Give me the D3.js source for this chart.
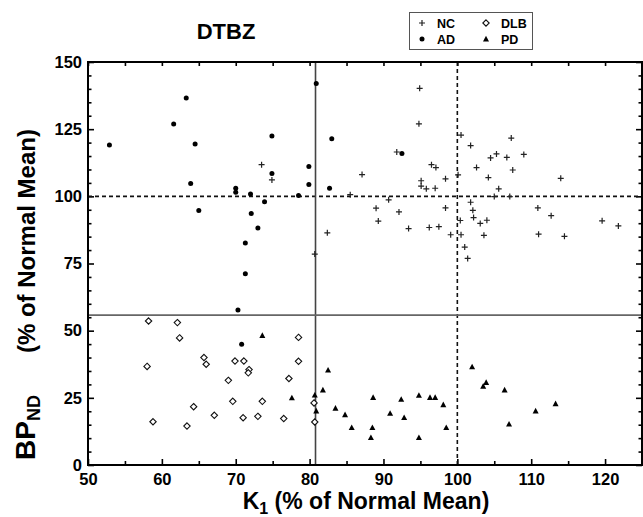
<!DOCTYPE html>
<html><head><meta charset="utf-8">
<script src="https://cdn.jsdelivr.net/npm/d3@7"></script>
<style>
body{margin:0;background:#fff;}
svg text{font-family:"Liberation Sans",Arial,Helvetica,sans-serif;font-weight:bold;fill:#000;}
</style></head><body>
<svg id="c" width="643" height="517"></svg>
<script>
// Data: [K1 %, BPND %]
const ncData = [[73.5,111.8],[74.9,106.1],[80.7,78.5],[82.4,86.4],[85.5,100.6],[87.1,108.1],[89.0,95.6],[89.3,90.8],[90.7,98.7],[91.8,116.5],[92.1,94.2],[93.4,88.0],[94.9,140.2],[94.8,127.0],[95.1,105.8],[95.1,103.8],[95.8,102.8],[96.2,88.4],[96.5,111.8],[97.1,110.7],[97.0,103.0],[97.5,88.7],[98.4,106.5],[98.4,95.7],[99.1,85.7],[100.1,108.0],[100.5,122.8],[100.4,91.0],[100.5,85.7],[101.0,81.1],[101.4,76.9],[101.8,118.9],[101.8,97.8],[102.1,94.8],[102.2,92.1],[102.6,110.7],[103.1,89.9],[104.0,91.1],[103.6,85.5],[104.2,107.0],[104.5,114.3],[105.3,115.8],[105.6,102.8],[105.0,99.9],[106.7,114.5],[107.3,121.7],[107.5,109.8],[107.1,99.9],[109.0,115.6],[110.9,95.7],[111.0,85.9],[112.7,92.8],[114.0,106.7],[114.5,85.1],[119.6,90.9],[121.8,89.0]];
const adData = [[52.9,119.1],[61.6,126.9],[63.3,136.6],[64.5,119.5],[63.9,104.8],[65.0,94.7],[70.0,103.0],[70.0,101.5],[72.0,100.9],[72.1,93.6],[73.9,98.0],[73.0,88.2],[71.3,82.6],[71.3,71.2],[70.3,57.7],[70.8,44.9],[74.9,122.5],[74.9,108.5],[78.5,100.3],[79.9,111.1],[79.9,104.4],[80.9,142.0],[83.0,121.4],[82.7,103.0],[92.5,115.9]];
const dlbData = [[58.2,53.6],[58.0,36.7],[58.8,16.1],[62.1,53.0],[62.4,47.3],[63.4,14.5],[64.3,21.7],[65.7,40.0],[66.0,37.5],[67.1,18.5],[69.0,31.5],[69.6,23.7],[69.9,38.7],[71.1,38.7],[71.0,17.6],[71.8,35.5],[71.7,34.3],[73.0,18.1],[73.6,23.7],[76.5,17.3],[77.2,32.2],[78.5,38.6],[78.5,47.5],[80.6,23.1],[80.7,16.0]];
const pdData = [[73.6,48.2],[77.6,25.0],[80.7,26.0],[80.9,20.1],[81.8,27.9],[82.5,35.3],[83.5,21.1],[84.8,18.7],[85.7,13.9],[88.6,25.1],[88.5,13.9],[88.3,10.2],[90.9,19.2],[92.4,24.4],[92.8,17.6],[94.8,25.9],[94.8,10.2],[96.3,25.1],[97.0,25.1],[98.1,22.4],[98.5,13.9],[102.0,36.5],[103.9,30.7],[103.5,29.3],[106.4,27.9],[107.0,15.2],[110.6,20.1],[113.3,22.8]];
const xTicks = [50,60,70,80,90,100,110,120];
const yTicks = [0,25,50,75,100,125,150];
const cutK1 = 80.8, cutBP = 55.8;   // solid threshold lines
const normK1 = 100, normBP = 100;   // dashed normal-mean lines
const legendItems = ["NC","DLB","AD","PD"];

const svg = d3.select("#c");
const L=88, R=642, T=62, B=465;
const x = d3.scaleLinear().domain([50,125]).range([L,R]);
const y = d3.scaleLinear().domain([0,150]).range([B,T]);

const xMinor = d3.range(55,125,10);
const yMinor = d3.range(0,151,5).filter(v=>v%25!==0);

function styleTicks(g){g.select(".domain").remove();g.selectAll("line").attr("stroke","#000").attr("stroke-width",1.6);}
svg.append("g").attr("transform",`translate(0,${B})`)
  .call(d3.axisBottom(x).tickValues(xTicks).tickSize(-6).tickPadding(8).tickFormat(d3.format("d")))
  .call(g=>{styleTicks(g);g.selectAll("text").attr("font-size",16.5).attr("fill","#000");});
svg.append("g").attr("transform",`translate(0,${B})`)
  .call(d3.axisBottom(x).tickValues(xMinor).tickSize(-4).tickFormat("")).call(styleTicks);
svg.append("g").attr("transform",`translate(0,${T})`)
  .call(d3.axisTop(x).tickValues(xTicks.concat(xMinor)).tickSize(-4).tickFormat("")).call(styleTicks);
svg.append("g").attr("transform",`translate(${L},0)`)
  .call(d3.axisLeft(y).tickValues(yTicks).tickSize(-6).tickPadding(6))
  .call(g=>{styleTicks(g);g.selectAll("text").attr("font-size",16.5).attr("fill","#000");});
svg.append("g").attr("transform",`translate(${L},0)`)
  .call(d3.axisLeft(y).tickValues(yMinor).tickSize(-3.5).tickFormat("")).call(styleTicks);
svg.append("g").attr("transform",`translate(${R},0)`)
  .call(d3.axisRight(y).tickValues(yTicks).tickSize(-6).tickFormat("")).call(styleTicks);
svg.append("g").attr("transform",`translate(${R},0)`)
  .call(d3.axisRight(y).tickValues(yMinor).tickSize(-3.5).tickFormat("")).call(styleTicks);

// reference lines
svg.append("line").attr("x1",x(normK1)).attr("x2",x(normK1)).attr("y1",T).attr("y2",B)
  .attr("stroke","#111").attr("stroke-width",1.6).attr("stroke-dasharray","4,3");
svg.append("line").attr("x1",L).attr("x2",R).attr("y1",y(normBP)).attr("y2",y(normBP))
  .attr("stroke","#111").attr("stroke-width",1.6).attr("stroke-dasharray","4,3");
svg.append("line").attr("x1",x(cutK1)).attr("x2",x(cutK1)).attr("y1",T).attr("y2",B)
  .attr("stroke","#444").attr("stroke-width",1.6);
svg.append("line").attr("x1",L).attr("x2",R).attr("y1",y(cutBP)).attr("y2",y(cutBP))
  .attr("stroke","#666").attr("stroke-width",1.8);

svg.append("rect").attr("x",L).attr("y",T).attr("width",R-L).attr("height",B-T)
  .attr("fill","none").attr("stroke","#000").attr("stroke-width",2);

const plusPath = "M-3,0H3M0,-3V3";
const diamondPath = "M0,-3.2L3.2,0L0,3.2L-3.2,0Z";
const triPath = "M0,-3.2L3,2.4L-3,2.4Z";
function drawNC(sel){sel.append("path").attr("d",plusPath).attr("stroke","#222").attr("stroke-width",1.2).attr("fill","none");}
function drawAD(sel){sel.append("circle").attr("r",2.5).attr("fill","#000");}
function drawDLB(sel){sel.append("path").attr("d",diamondPath).attr("stroke","#111").attr("stroke-width",1.1).attr("fill","#fff");}
function drawPD(sel){sel.append("path").attr("d",triPath).attr("fill","#000");}

const series = [[dlbData,drawDLB],[pdData,drawPD],[ncData,drawNC],[adData,drawAD]];
series.forEach(([data,fn])=>{
  svg.append("g").selectAll("g").data(data).join("g")
    .attr("transform",d=>`translate(${x(d[0])},${y(d[1])})`)
    .call(fn);
});

svg.append("text").attr("x",226).attr("y",39).attr("text-anchor","middle").attr("font-size",22).text("DTBZ");

const lg = svg.append("g");
lg.append("rect").attr("x",409.5).attr("y",12.5).attr("width",123).attr("height",37)
  .attr("fill","#fff").attr("stroke","#555").attr("stroke-width",1);
const lpos = {NC:[422,23],DLB:[486,23],AD:[422,39],PD:[486,39]};
const lfn = {NC:drawNC,DLB:drawDLB,AD:drawAD,PD:drawPD};
legendItems.forEach(k=>{
  const [lx,ly]=lpos[k];
  lg.append("g").attr("transform",`translate(${lx},${ly})`).call(lfn[k]);
  lg.append("text").attr("x",lx+15).attr("y",ly+4.5).attr("font-size",12.5).text(k);
});

const xt = svg.append("text").attr("x",366).attr("y",509).attr("text-anchor","middle").attr("font-size",23);
xt.append("tspan").text("K");
xt.append("tspan").attr("font-size",16).attr("dy",5).text("1");
xt.append("tspan").attr("dy",-5).text(" (% of Normal Mean)");

const yt = svg.append("text").attr("transform","translate(35,460) rotate(-90)").attr("text-anchor","start").attr("font-size",24);
yt.append("tspan").attr("font-size",28).text("BP");
yt.append("tspan").attr("font-size",18).attr("dy",5).text("ND");
yt.append("tspan").attr("dy",-5).attr("dx",42).text("(% of Normal Mean)");
</script>
</body></html>
